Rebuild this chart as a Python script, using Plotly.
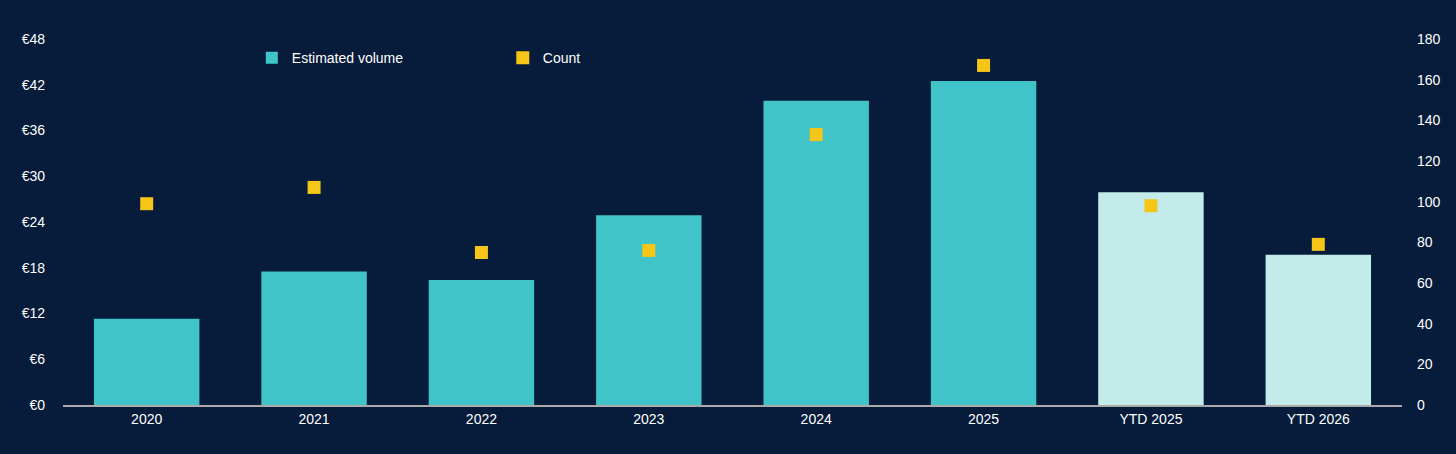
import plotly.graph_objects as go

# data
categories = ["2020", "2021", "2022", "2023", "2024", "2025", "YTD 2025", "YTD 2026"]
volume = [11.3, 17.5, 16.4, 24.9, 39.9, 42.5, 27.9, 19.7]
count = [99, 107, 75, 76, 133, 167, 98, 79]
volume_ticks = [0, 6, 12, 18, 24, 30, 36, 42, 48]

BG = "#061c3a"
TEAL = "#40c4c9"
LIGHT = "#c3ebea"
YELLOW = "#f5c518"
FONT = "Liberation Sans, Arial"

bar_colors = [LIGHT if c.startswith("YTD") else TEAL for c in categories]

fig = go.Figure()
fig.add_trace(go.Bar(
    x=categories, y=volume, name="Estimated volume",
    marker=dict(color=bar_colors, line=dict(width=0)),
    width=0.63,
))
fig.add_trace(go.Scatter(
    x=categories, y=count, name="Count", yaxis="y2", mode="markers",
    marker=dict(symbol="square", size=13, color=YELLOW, line=dict(width=0)),
))

fig.update_layout(
    width=1456, height=454,
    paper_bgcolor=BG, plot_bgcolor=BG,
    margin=dict(l=63, r=54, t=39, b=49),
    font=dict(family=FONT, size=14, color="white"),
    showlegend=True,
    legend=dict(
        orientation="h", x=0.141, y=0.948, xanchor="left", yanchor="middle",
        entrywidth=206, entrywidthmode="pixels",
        bgcolor="rgba(0,0,0,0)", font=dict(size=14, color="white"),
    ),
    xaxis=dict(
        showgrid=False, showline=True, linecolor="#a9a9a9", linewidth=2,
        ticks="", zeroline=False,
    ),
    yaxis=dict(
        range=[0, 48], tickvals=volume_ticks,
        ticktext=[f"€{v}" for v in volume_ticks],
        showgrid=False, zeroline=False, ticks="", ticklabelstandoff=17,
    ),
    yaxis2=dict(
        range=[0, 180], dtick=20, overlaying="y", side="right",
        showgrid=False, zeroline=False, ticks="", ticklabelstandoff=14,
    ),
)

# page body has a default 8px margin, drop it so the chart sits flush
fig.write_html("out.html", config={"displayModeBar": False},
               post_script="document.body.style.margin='0';")
